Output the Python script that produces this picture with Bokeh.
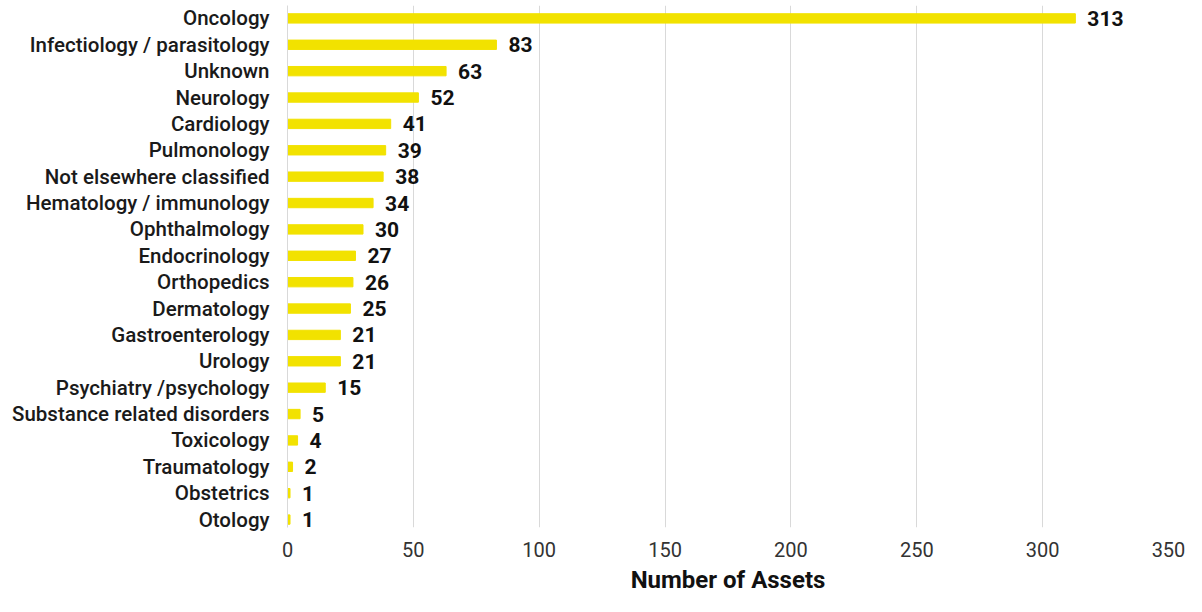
from bokeh.plotting import figure
from bokeh.models import ColumnDataSource, FixedTicker, LabelSet
from bokeh.core.properties import value
from bokeh.embed import file_html
from bokeh.resources import INLINE

categories = ["Oncology", "Infectiology / parasitology", "Unknown", "Neurology",
              "Cardiology", "Pulmonology", "Not elsewhere classified",
              "Hematology / immunology", "Ophthalmology", "Endocrinology",
              "Orthopedics", "Dermatology", "Gastroenterology", "Urology",
              "Psychiatry /psychology", "Substance related disorders",
              "Toxicology", "Traumatology", "Obstetrics", "Otology"]
values = [313, 83, 63, 52, 41, 39, 38, 34, 30, 27, 26, 25, 21, 21, 15, 5, 4, 2, 1, 1]
x_ticks = [0, 50, 100, 150, 200, 250, 300, 350]

n = len(categories)
ypos = [n - 1 - i for i in range(n)]
src = ColumnDataSource(dict(y=ypos, v=values, cat=categories,
                            lab=[str(v) for v in values]))

W, H = 1186, 596
p = figure(width=W, height=H, output_backend="svg", toolbar_location=None,
           x_range=(0, 350), y_range=(-0.301, n - 1 + 0.489),
           min_border_left=287, min_border_right=W - 1168, min_border_top=5,
           min_border_bottom=H - 531)
p.outline_line_color = None
p.background_fill_color = "white"

p.hbar(y="y", right="v", left=0, height=0.355, color="#F2E200", source=src)

labels = LabelSet(x="v", y="y", text="lab", source=src, x_offset=12,
                  text_align="left", text_baseline="middle",
                  text_font=value("Roboto"), text_font_style="bold",
                  text_font_size="21px", text_color="#111111")
p.add_layout(labels)

p.xaxis.ticker = FixedTicker(ticks=x_ticks)
p.xaxis.axis_line_color = None
p.xaxis.major_tick_line_color = None
p.xaxis.minor_tick_line_color = None
p.xaxis.major_tick_out = 0
p.xaxis.major_label_standoff = 14
p.xaxis.major_label_text_font = "Roboto"
p.xaxis.major_label_text_font_size = "20px"
p.xaxis.major_label_text_color = "#333333"
p.xaxis.axis_label = "Number of Assets"
p.xaxis.axis_label_text_font = "Roboto"
p.xaxis.axis_label_text_font_style = "bold"
p.xaxis.axis_label_text_font_size = "24px"
p.xaxis.axis_label_text_color = "#111111"
p.xaxis.axis_label_standoff = 6

p.yaxis.ticker = FixedTicker(ticks=ypos)
p.yaxis.major_label_overrides = {y: c for y, c in zip(ypos, categories)}
p.yaxis.axis_line_color = "#d9d9d9"
p.yaxis.major_tick_line_color = None
p.yaxis.minor_tick_line_color = None
p.yaxis.major_tick_out = 0
p.yaxis.major_label_standoff = 18
p.yaxis.major_label_text_font = "Roboto Medium, Roboto"
p.yaxis.major_label_text_font_size = "20.5px"
p.yaxis.major_label_text_color = "#1a1a1a"

p.xgrid.grid_line_color = "#d9d9d9"
p.ygrid.grid_line_color = None

open("out.html", "w").write(file_html(p, INLINE))
